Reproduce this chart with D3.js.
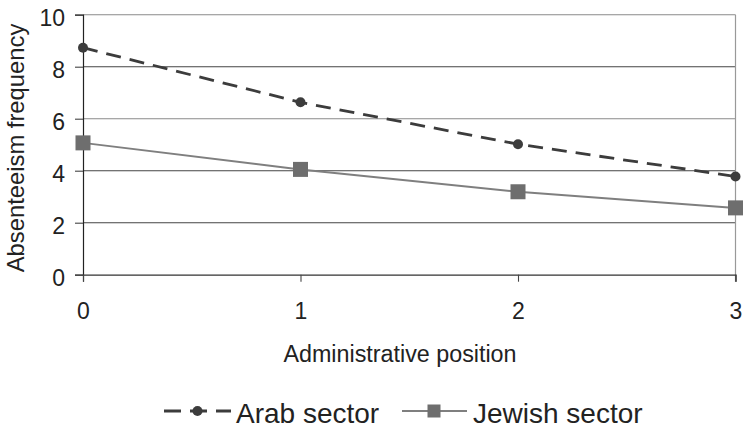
<!DOCTYPE html>
<html><head><meta charset="utf-8">
<script src="https://cdn.jsdelivr.net/npm/d3@7"></script>
<style>body{margin:0;background:#fff}svg{display:block;font-family:"Liberation Sans",Arial,sans-serif}</style>
</head><body><svg id="c" width="743" height="429"></svg>
<script>
const positions = [0, 1, 2, 3];
const arabSector = [8.73, 6.63, 5.02, 3.78];
const jewishSector = [5.07, 4.05, 3.19, 2.57];
const yTicks = [0, 2, 4, 6, 8, 10];
const seriesNames = ["Arab sector", "Jewish sector"];

const svg = d3.select("#c");
const L = 83, R = 735.5, T = 14.7, B = 274.7;
const x = d3.scaleLinear().domain([0, 3]).range([L, R]);
const y = d3.scaleLinear().domain([0, 10]).range([B, T]);

// gridlines
svg.append("g").selectAll("line").data(yTicks.filter(d => d > 0)).join("line")
  .attr("x1", L).attr("x2", R).attr("y1", d => y(d)).attr("y2", d => y(d))
  .attr("stroke", d => (d === 10 || d === 6) ? "#8a8a8a" : "#444").attr("stroke-width", 1.1);
// right border
svg.append("line").attr("x1", R).attr("x2", R).attr("y1", T).attr("y2", B + 7)
  .attr("stroke", "#999").attr("stroke-width", 1.2);

// axes
const yAxis = d3.axisLeft(y).tickValues(yTicks).tickSize(8).tickPadding(10).tickFormat(d3.format("d"));
const gy = svg.append("g").attr("transform", `translate(${L},0)`).call(yAxis);
gy.select(".domain").attr("stroke", "#222").attr("stroke-width", 1.2);
gy.selectAll(".tick line").attr("stroke", "#444").attr("stroke-width", 1.1);
gy.selectAll("text").attr("font-size", 23).attr("dy", "0.45em").attr("fill", "#222").attr("font-family", "Liberation Sans, Arial, sans-serif");

const xAxis = d3.axisBottom(x).tickValues(positions).tickSize(7).tickPadding(21).tickFormat(d3.format("d"));
const gx = svg.append("g").attr("transform", `translate(0,${B})`).call(xAxis);
gx.select(".domain").attr("stroke", "#333").attr("stroke-width", 1.2);
gx.selectAll(".tick line").attr("stroke", "#444").attr("stroke-width", 1.1);
gx.selectAll("text").attr("font-size", 23).attr("fill", "#222").attr("font-family", "Liberation Sans, Arial, sans-serif");

// titles
svg.append("text").attr("x", 400).attr("y", 362).attr("text-anchor", "middle")
  .attr("font-size", 23.3).attr("fill", "#222").text("Administrative position");
svg.append("text").attr("transform", "translate(24,148) rotate(-90)").attr("text-anchor", "middle")
  .attr("font-size", 23.8).attr("fill", "#222").text("Absenteeism frequency");

// series
const line = d3.line().x((d, i) => x(positions[i])).y(d => y(d));
svg.append("path").datum(jewishSector).attr("d", line).attr("fill", "none")
  .attr("stroke", "#7f7f7f").attr("stroke-width", 2);
svg.append("g").selectAll("rect").data(jewishSector).join("rect")
  .attr("x", (d, i) => x(positions[i]) - 7.5).attr("y", d => y(d) - 7.5)
  .attr("width", 15).attr("height", 15).attr("fill", "#6e6e6e");
svg.append("path").datum(arabSector).attr("d", line).attr("fill", "none")
  .attr("stroke", "#3c3c3c").attr("stroke-width", 2.8).attr("stroke-dasharray", "15,9");
svg.append("g").selectAll("circle").data(arabSector).join("circle")
  .attr("cx", (d, i) => x(positions[i])).attr("cy", d => y(d)).attr("r", 5).attr("fill", "#3c3c3c");

// legend
const ly = 411;
const lg = svg.append("g");
lg.append("line").attr("x1", 164).attr("x2", 231).attr("y1", ly).attr("y2", ly)
  .attr("stroke", "#3c3c3c").attr("stroke-width", 2.8).attr("stroke-dasharray", "17,9");
lg.append("circle").attr("cx", 197.5).attr("cy", ly).attr("r", 5).attr("fill", "#3c3c3c");
lg.append("text").attr("x", 236).attr("y", 423).attr("font-size", 28).attr("fill", "#222").text(seriesNames[0]);
lg.append("line").attr("x1", 402).attr("x2", 467).attr("y1", ly).attr("y2", ly)
  .attr("stroke", "#7f7f7f").attr("stroke-width", 2);
lg.append("rect").attr("x", 434 - 6.5).attr("y", ly - 6.5).attr("width", 13).attr("height", 13).attr("fill", "#6e6e6e");
lg.append("text").attr("x", 473).attr("y", 423).attr("font-size", 28).attr("fill", "#222").text(seriesNames[1]);
</script></body></html>
